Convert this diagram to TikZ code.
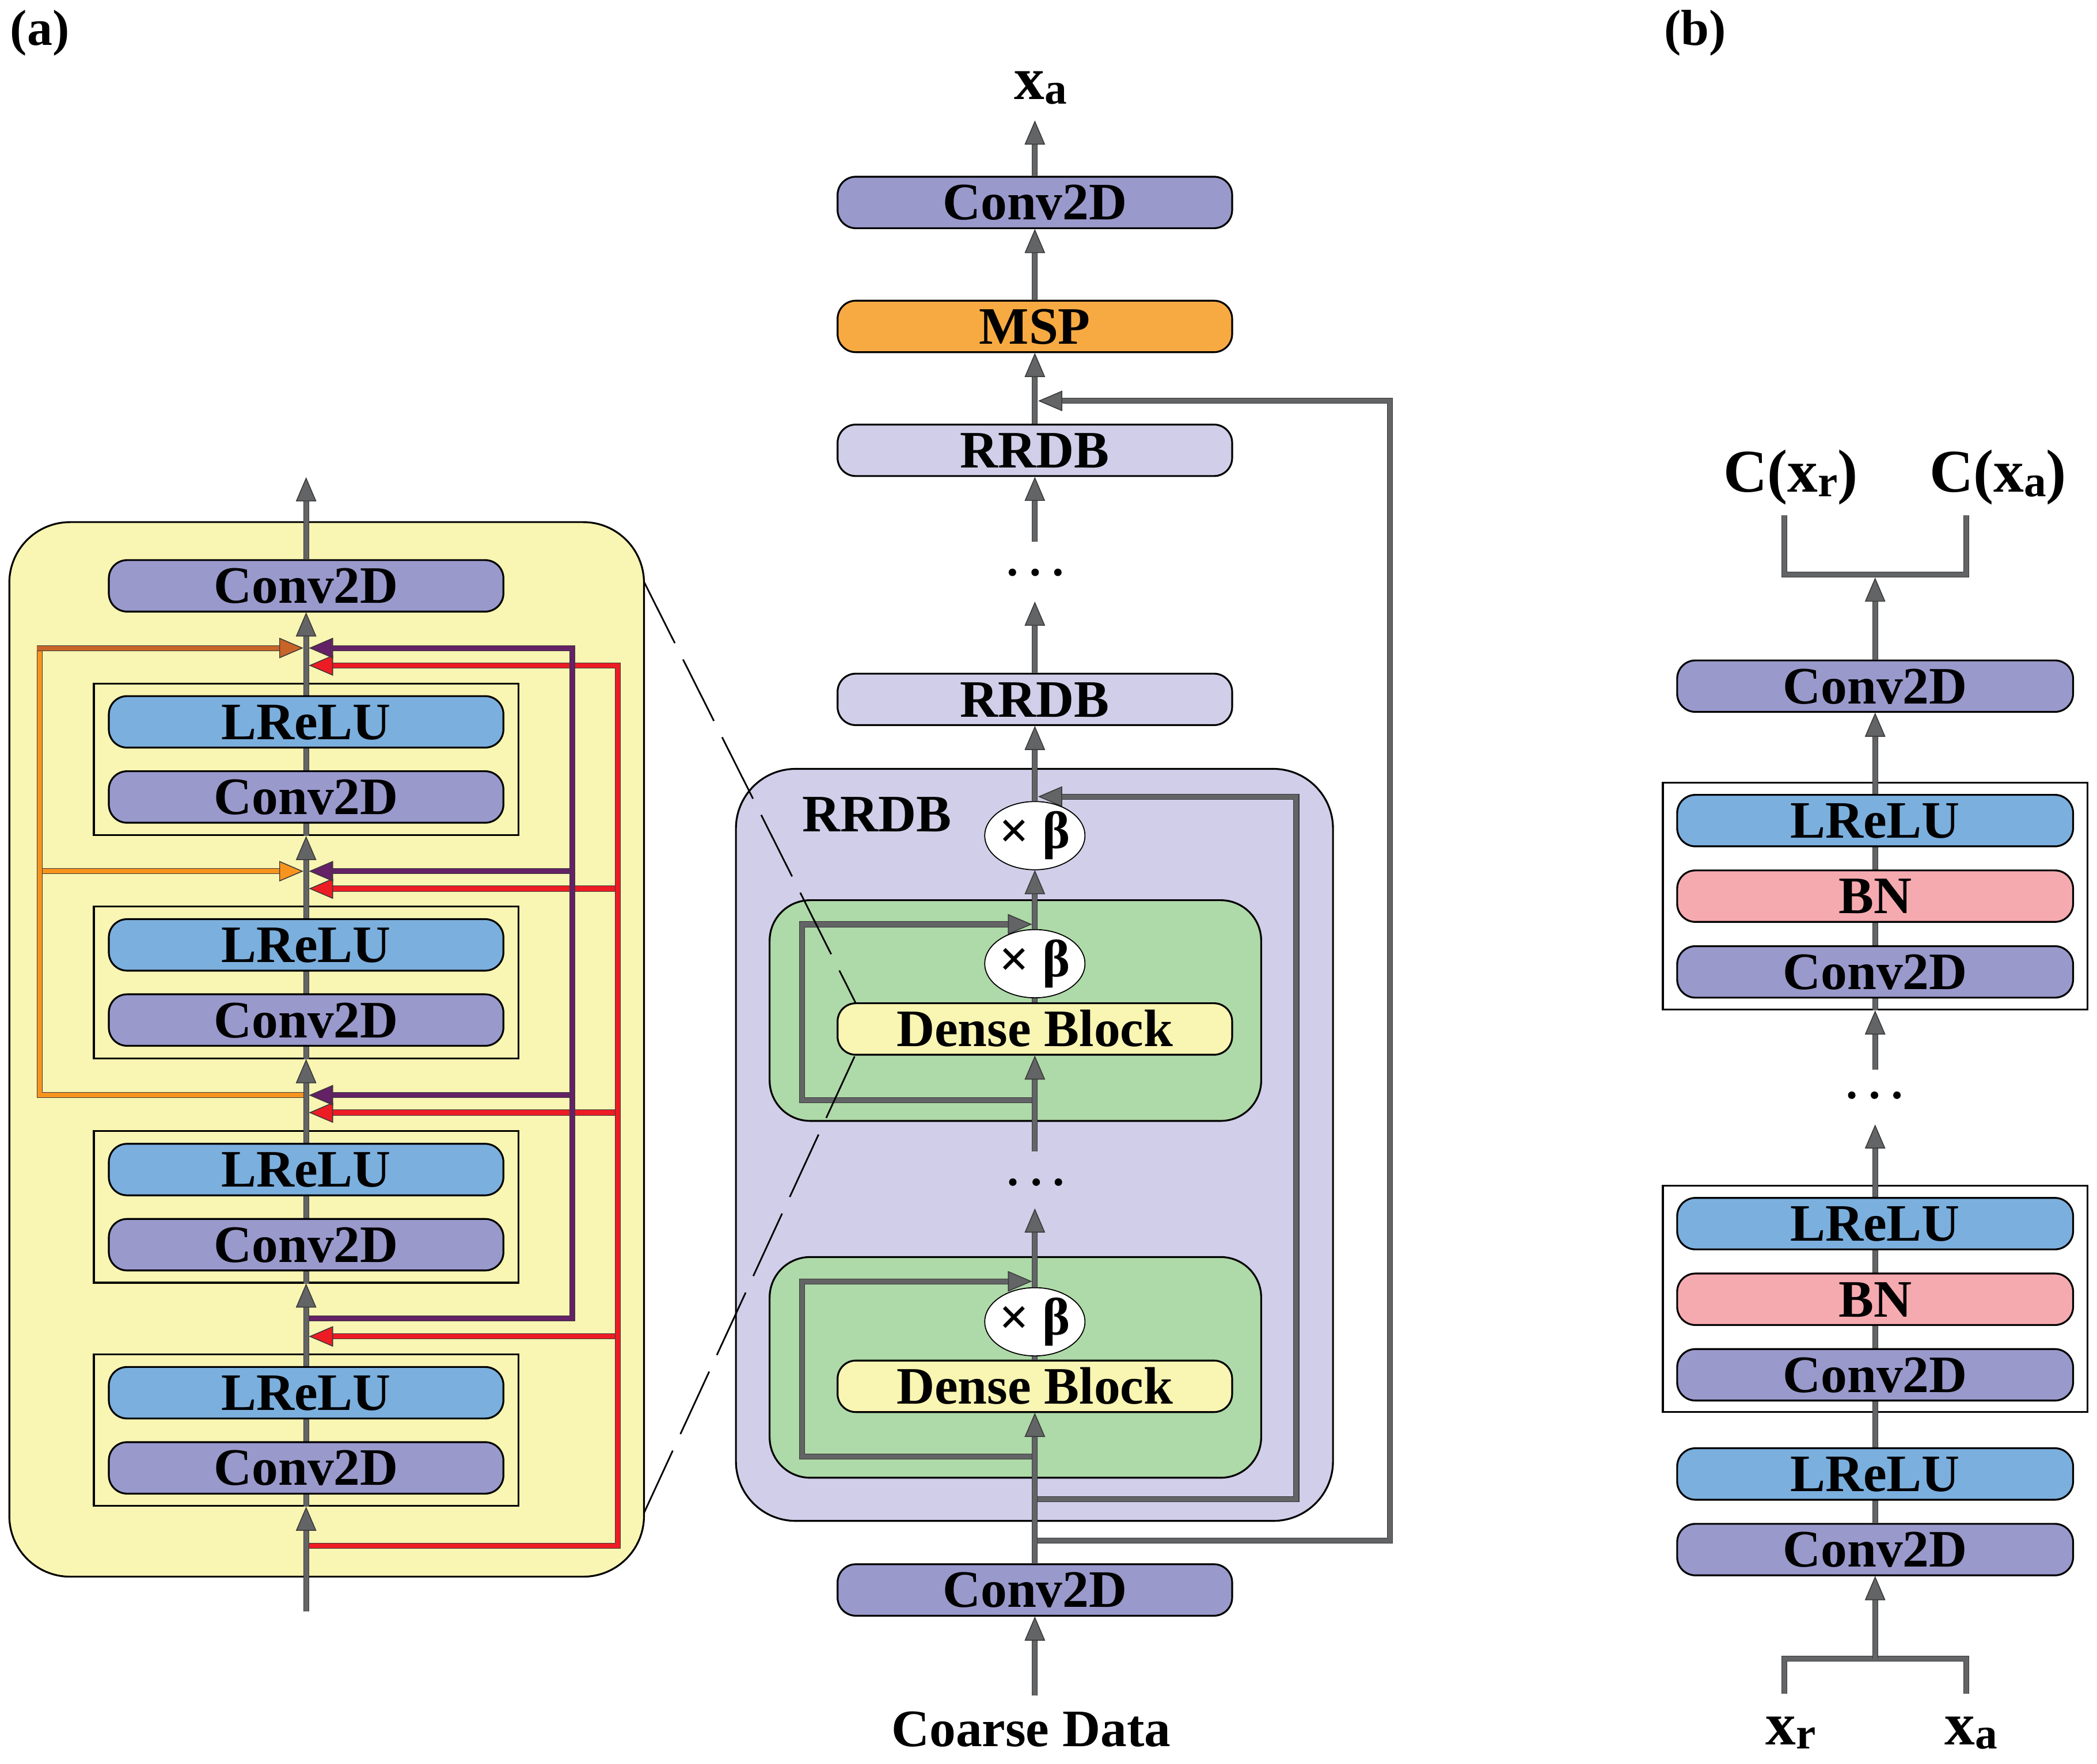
\documentclass[tikz,border=0pt]{standalone}
\usepackage{fontspec}
\setmainfont{Liberation Serif}
\usetikzlibrary{arrows.meta,shapes.geometric}
\newlength\UU
\setlength\UU{0.66087pt}
\definecolor{convc}{HTML}{9999CC}
\definecolor{reluc}{HTML}{7BAFDE}
\definecolor{mspc}{HTML}{F8AA42}
\definecolor{rrdbc}{HTML}{D0CEE8}
\definecolor{yelc}{HTML}{F9F5B2}
\definecolor{grnc}{HTML}{AED9A8}
\definecolor{bnc}{HTML}{F5AAAF}
\definecolor{cgray}{HTML}{636466}
\definecolor{cred}{HTML}{ED1C24}
\definecolor{cpur}{HTML}{642166}
\definecolor{corg}{HTML}{F7941D}
\definecolor{corgd}{HTML}{C86428}
\definecolor{edge}{HTML}{3A3A3A}
\pgfdeclarelayer{bg}
\pgfdeclarelayer{lines}
\pgfsetlayers{bg,lines,main}
\tikzset{
  box/.style={draw=black, line width=0.9pt, rounded corners=9pt, inner sep=0pt,
    minimum width=295\UU, minimum height=38.5\UU,
    font=\fontsize{26}{26}\selectfont\bfseries, text height=17.2pt, text depth=0pt},
  convbox/.style={box, fill=convc},
  relubox/.style={box, fill=reluc},
  bnbox/.style={box, fill=bnc},
  mspbox/.style={box, fill=mspc},
  rrdbbox/.style={box, fill=rrdbc},
  densebox/.style={box, fill=yelc},
  blockrect/.style={draw=black, line width=0.9pt, inner sep=0pt, minimum width=317.4\UU},
  container/.style={draw=black, line width=0.9pt, inner sep=0pt},
  betanode/.style={ellipse, draw=black, line width=0.5pt, fill=white, inner sep=0pt,
    minimum width=64.4\UU, minimum height=46\UU, font=\fontsize{26}{26}\selectfont\bfseries},
  lbl/.style={anchor=base, inner sep=0pt, font=\fontsize{30}{30}\selectfont\bfseries},
  boxlbl/.style={anchor=base, inner sep=0pt, font=\fontsize{26}{26}\selectfont\bfseries},
  panellbl/.style={anchor=base, inner sep=0pt, font=\fontsize{25}{25}\selectfont\bfseries},
  dotn/.style={circle, fill=black, inner sep=0pt, minimum size=5.6\UU},
  ln/.style={draw=#1, line width=2.3pt, preaction={draw=edge, line width=2.9pt}},
  ln/.default=cgray,
  ar/.style={ln=#1, -{Triangle[length=11.8pt, width=10pt, line width=0.4pt, fill=#1, color=edge]}},
  ar/.default=cgray,
  dashln/.style={draw=black, line width=0.8pt, dash pattern=on 34pt off 9pt},
}
\newcommand\subx[1]{\raisebox{-2.2pt}{\fontsize{22}{22}\selectfont #1}}
\begin{document}
\begin{tikzpicture}[x=0.023227cm, y=-0.023227cm]
\useasboundingbox (0,0) rectangle (1568,1319);

% ---------- panel labels ----------
\node[panellbl] (pa) at (29.8,33.7) {(a)};
\node[panellbl] (pb) at (1267.5,33.7) {(b)};

% ---------- containers and block frames ----------
\begin{pgfonlayer}{bg}
\node[container, fill=yelc, rounded corners=30pt, minimum width=474.5\UU, minimum height=788.5\UU] (acont) at (244.25,784.75) {};
\node[container, fill=rrdbc, rounded corners=29.5pt, minimum width=446.4\UU, minimum height=562.3\UU] (rcont) at (773.5,856.15) {};
\node[container, fill=grnc, rounded corners=20pt, minimum width=367.5\UU, minimum height=165\UU] (g1) at (759.25,755.7) {};
\node[container, fill=grnc, rounded corners=20pt, minimum width=367.5\UU, minimum height=165\UU] (g2) at (759.25,1022.55) {};
\node[blockrect, minimum height=113.4\UU] (ab1) at (228.9,567.9) {};
\node[blockrect, minimum height=113.4\UU] (ab2) at (228.9,734.7) {};
\node[blockrect, minimum height=113.4\UU] (ab3) at (228.9,902.5) {};
\node[blockrect, minimum height=113.4\UU] (ab4) at (228.9,1069.45) {};
\node[blockrect, fill=white, minimum height=169.7\UU] (bb1) at (1402.1,670.15) {};
\node[blockrect, fill=white, minimum height=169.3\UU] (bb2) at (1402.1,971.25) {};
\end{pgfonlayer}

% ---------- (a) dense block detail ----------
\node[convbox] (aconv) at (228.9,438.1) {Conv2D};
\node[relubox] (ar1) at (228.9,539.8) {LReLU};
\node[convbox] (ac1) at (228.9,596) {Conv2D};
\node[relubox] (ar2) at (228.9,706.6) {LReLU};
\node[convbox] (ac2) at (228.9,762.8) {Conv2D};
\node[relubox] (ar3) at (228.9,874.6) {LReLU};
\node[convbox] (ac3) at (228.9,930.8) {Conv2D};
\node[relubox] (ar4) at (228.9,1041.5) {LReLU};
\node[convbox] (ac4) at (228.9,1097.7) {Conv2D};

% ---------- main generator column ----------
\node[lbl] (xaout) at (778,74.3) {x\subx{a}};
\node[convbox] (mconvt) at (773.8,151.4) {Conv2D};
\node[mspbox] (msp) at (773.8,244.1) {MSP};
\node[rrdbbox] (rr1) at (773.8,336.75) {RRDB};
\node[rrdbbox] (rr2) at (773.8,523) {RRDB};
\node[boxlbl] (rrlbl) at (655.5,622) {RRDB};
\node[betanode] (xb1) at (773.8,624.9) {× β};
\node[betanode] (xb2) at (773.8,720.65) {× β};
\node[densebox] (db1) at (773.8,769.5) {Dense Block};
\node[betanode] (xb3) at (773.8,988.45) {× β};
\node[densebox] (db2) at (773.8,1036.7) {Dense Block};
\node[convbox] (mconvb) at (773.8,1189) {Conv2D};
\node[boxlbl] (coarse) at (771,1306) {Coarse Data};
\node[dotn] (d11) at (757,428) {};
\node[dotn] (d12) at (774,428) {};
\node[dotn] (d13) at (791,428) {};
\node[dotn] (d21) at (757.3,884) {};
\node[dotn] (d22) at (774.8,884) {};
\node[dotn] (d23) at (791.4,884) {};

% ---------- (b) discriminator ----------
\node[lbl] (cxr) at (1339,367.8) {C(x\subx{r})};
\node[lbl] (cxa) at (1494,367.8) {C(x\subx{a})};
\node[convbox, minimum width=296\UU] (bc0) at (1402.1,513.1) {Conv2D};
\node[relubox, minimum width=296\UU] (br1) at (1402.1,613.65) {LReLU};
\node[bnbox, minimum width=296\UU] (bn1) at (1402.1,670.15) {BN};
\node[convbox, minimum width=296\UU] (bc1) at (1402.1,726.8) {Conv2D};
\node[relubox, minimum width=296\UU] (br2) at (1402.1,915.05) {LReLU};
\node[bnbox, minimum width=296\UU] (bn2) at (1402.1,971.6) {BN};
\node[convbox, minimum width=296\UU] (bc2) at (1402.1,1028.1) {Conv2D};
\node[relubox, minimum width=296\UU] (br3) at (1402.1,1102.25) {LReLU};
\node[convbox, minimum width=296\UU] (bc3) at (1402.1,1158.8) {Conv2D};
\node[lbl] (bxr) at (1339,1304.5) {x\subx{r}};
\node[lbl] (bxa) at (1474,1304.5) {x\subx{a}};
\node[dotn] (d31) at (1384.6,819) {};
\node[dotn] (d32) at (1401.6,819) {};
\node[dotn] (d33) at (1418.4,819) {};

% ---------- coordinates ----------
\coordinate (ain) at (228.9,1205);
\coordinate (aout) at (228.9,357);
\coordinate (rS) at (228.9,1156);
\coordinate (rT) at (462,497.6);
\coordinate (rTip1) at (231.1,497.6);
\coordinate (rB2) at (462,664.5);  \coordinate (rTip2) at (231.1,664.5);
\coordinate (rB3) at (462,832);    \coordinate (rTip3) at (231.1,832);
\coordinate (rB4) at (462,999.4);  \coordinate (rTip4) at (231.1,999.4);
\coordinate (pS) at (228.9,986);
\coordinate (pT) at (427.9,484.6);
\coordinate (pTip1) at (231.1,484.6);
\coordinate (pB2) at (427.9,651.5); \coordinate (pTip2) at (231.1,651.5);
\coordinate (pB3) at (427.9,819);   \coordinate (pTip3) at (231.1,819);
\coordinate (oS) at (228.9,819);
\coordinate (oT) at (29.8,484.6);
\coordinate (oTc) at (27.6,484.6);
\coordinate (oTip1) at (226.7,484.6);
\coordinate (oB2) at (29.8,651.5); \coordinate (oTip2) at (226.7,651.5);

\coordinate (cin) at (773.8,1268);
\coordinate (cout) at (773.8,90.2);
\coordinate (kS) at (773.8,1152);
\coordinate (kC) at (1039.2,299.8);
\coordinate (kTip) at (776.4,299.8);
\coordinate (iS) at (773.8,1121);
\coordinate (iC) at (969.3,595.7);
\coordinate (iTip) at (776.3,595.7);
\coordinate (e1S) at (773.8,822.6);
\coordinate (e1C) at (599.6,691.2);
\coordinate (e1Tip) at (771.6,691.2);
\coordinate (e2S) at (773.8,1089.1);
\coordinate (e2C) at (599.6,958.2);
\coordinate (e2Tip) at (771.6,958.2);
\coordinate (dots2tip) at (773.8,903.8);
\coordinate (g1tail) at (773.8,861);
\coordinate (dots1tip) at (773.8,450);
\coordinate (dots1tail) at (773.8,405);

\coordinate (bL) at (1334.2,1266.7);
\coordinate (bJ) at (1402.1,1240.4);
\coordinate (bR) at (1470.1,1266.7);
\coordinate (tL) at (1334.2,385.3);
\coordinate (tJ) at (1402.1,429.8);
\coordinate (tR) at (1470.1,385.3);
\coordinate (tTip) at (1402.1,432);
\coordinate (bdotsTip) at (1402.1,841);
\coordinate (bdotsTail) at (1402.1,800);

\coordinate (dA1) at (481.5,435);
\coordinate (dA2) at (481.5,1131.5);
\coordinate (dB1) at (639.8,750);
\coordinate (dB2) at (639,790);

% ---------- lines behind boxes ----------
\begin{pgfonlayer}{lines}
\draw[ln] (ab1.south) -- (ab1.north);
\draw[ln] (ab2.south) -- (ab2.north);
\draw[ln] (ab3.south) -- (ab3.north);
\draw[ln] (ab4.south) -- (ab4.north);
\draw[ln] (bb1.south) -- (bb1.north);
\draw[ln] (bc3.north) -- (bb2.north);
% red skips
\draw[ar=cred] (rB4) -- (rTip4);
\draw[ar=cred] (rB3) -- (rTip3);
\draw[ar=cred] (rB2) -- (rTip2);
\draw[ar=cred] (rS) -| (rT) -- (rTip1);
% purple skips
\draw[ar=cpur] (pB3) -- (pTip3);
\draw[ar=cpur] (pB2) -- (pTip2);
\draw[ar=cpur] (pS) -| (pT) -- (pTip1);
% orange skips
\draw[ar=corg] (oB2) -- (oTip2);
\draw[ln=corg] (oS) -| (oT);
\draw[ar=corgd] (oTc) -- (oTip1);
% main column skips
\draw[ar] (kS) -| (kC) -- (kTip);
\draw[ar] (iS) -| (iC) -- (iTip);
\draw[ar] (e1S) -| (e1C) -- (e1Tip);
\draw[ar] (e2S) -| (e2C) -- (e2Tip);
\end{pgfonlayer}

% ---------- (a) main flow ----------
\draw[ar] (ain) -- (ab4.south);
\draw[ar] (ab4.north) -- (ab3.south);
\draw[ar] (ab3.north) -- (ab2.south);
\draw[ar] (ab2.north) -- (ab1.south);
\draw[ar] (ab1.north) -- (aconv.south);
\draw[ar] (aconv.north) -- (aout);

% ---------- main column flow ----------
\draw[ar] (cin) -- (mconvb.south);
\draw[ar] (mconvb.north) -- (db2.south);
\draw[ln] (db2.north) -- (xb3.south);
\draw[ar] (xb3.north) -- (dots2tip);
\draw[ar] (g1tail) -- (db1.south);
\draw[ln] (db1.north) -- (xb2.south);
\draw[ar] (xb2.north) -- (xb1.south);
\draw[ar] (xb1.north) -- (rr2.south);
\draw[ar] (rr2.north) -- (dots1tip);
\draw[ar] (dots1tail) -- (rr1.south);
\draw[ar] (rr1.north) -- (msp.south);
\draw[ar] (msp.north) -- (mconvt.south);
\draw[ar] (mconvt.north) -- (cout);

% ---------- (b) flow ----------
\draw[ln] (bL) |- (bJ) -| (bR);
\draw[ar] (bJ) -- (bc3.south);
\draw[ar] (bb2.north) -- (bdotsTip);
\draw[ar] (bdotsTail) -- (bb1.south);
\draw[ar] (bb1.north) -- (bc0.south);
\draw[ln] (tL) |- (tJ) -| (tR);
\draw[ar] (bc0.north) -- (tTip);

% ---------- zoom (dashed) lines ----------
\draw[dashln] (dA1) -- (dB1);
\draw[dashln] (dA2) -- (dB2);
\end{tikzpicture}
\end{document}
